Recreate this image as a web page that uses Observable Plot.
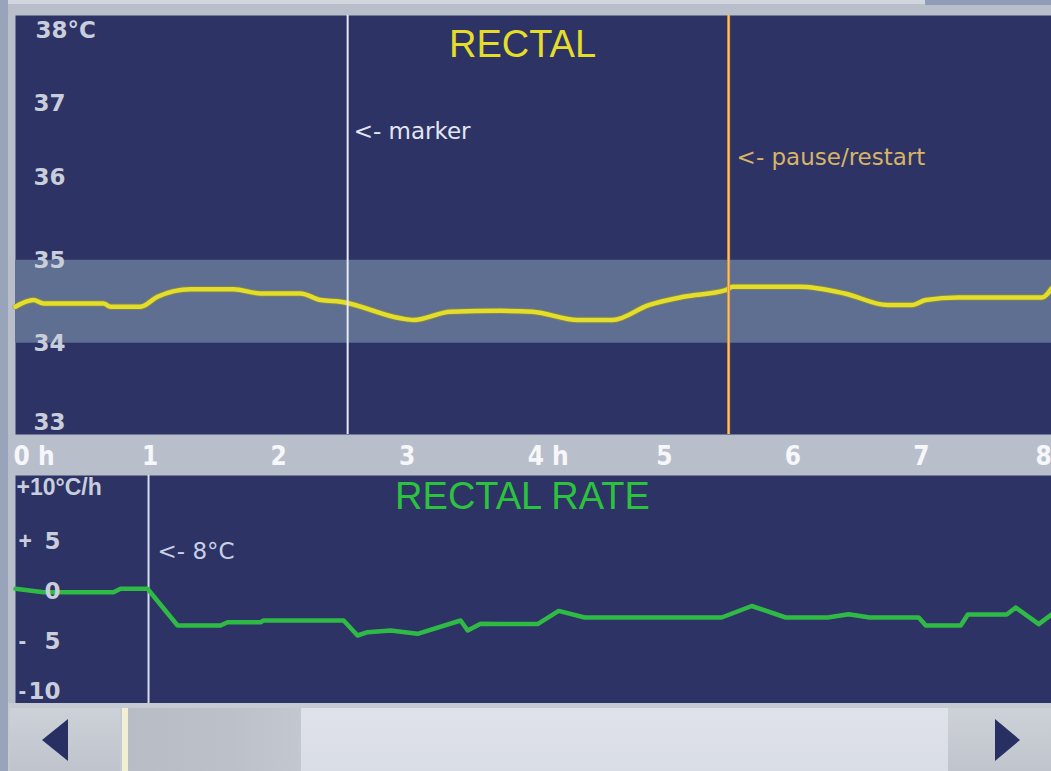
<!DOCTYPE html>
<html>
<head>
<meta charset="utf-8">
<script src="https://cdn.jsdelivr.net/npm/d3@7"></script>
<script src="https://cdn.jsdelivr.net/npm/@observablehq/plot@0.6"></script>
<style>
  html, body { margin: 0; padding: 0; background: #b7bdc8; }
  #wrap { position: relative; width: 1051px; height: 771px; overflow: hidden; background: #b9bfca; }
  #wrap .chart { position: absolute; left: 0; }
  #wrap svg { display: block; }
  .blk { position: absolute; }
</style>
</head>
<body>
<div id="wrap">
  <div class="blk" style="left:0;top:0;width:1051px;height:4px;background:#d2d6de"></div>
  <div class="blk" style="left:925px;top:0;width:126px;height:5px;background:#8f9cb6"></div>
  <div class="blk" style="left:0;top:0;width:8px;height:771px;background:#97a4ba"></div>
  <div id="top" class="chart" style="top:0"></div>
  <div id="bottom" class="chart" style="top:474px"></div>
  <!-- scrollbar chrome -->
  <div class="blk" style="left:8px;top:703px;width:1043px;height:68px;background:#c6cad2"></div>
  <div class="blk" style="left:10px;top:708px;width:110px;height:63px;background:linear-gradient(#cdd1d8,#bfc4cc)"></div>
  <div class="blk" style="left:42px;top:719px;width:26px;height:42px;background:#283063;clip-path:polygon(0 50%,100% 0,100% 100%)"></div>
  <div class="blk" style="left:122px;top:708px;width:6px;height:63px;background:#f2f0d4"></div>
  <div class="blk" style="left:128px;top:708px;width:173px;height:63px;background:linear-gradient(90deg,#b8bdc5,#bcc1c9 60%,#c3c7cf)"></div>
  <div class="blk" style="left:301px;top:708px;width:647px;height:63px;background:linear-gradient(#dfe2ea,#d9dde6)"></div>
  <div class="blk" style="left:948px;top:708px;width:103px;height:63px;background:linear-gradient(#cdd1d8,#c0c5cd)"></div>
  <div class="blk" style="left:995px;top:719px;width:25px;height:42px;background:#283063;clip-path:polygon(0 0,100% 50%,0 100%)"></div>
</div>
<script>
// ---- data ----
const timeTicks = [0, 1, 2, 3, 4, 5, 6, 7, 8];
const timeTickLabels = ["0 h", "1", "2", "3", "4 h", "5", "6", "7", "8"];
const timeDomain = [0, 8.06];

const tempTicks = [33, 34, 35, 36, 37, 38];
const tempTickLabels = ["33", "34", "35", "36", "37", "38°C"];
const tempDomain = [32.9, 37.95];
const normalBand = [34, 35];

const tempHours = [0, 0.14, 0.218, 0.685, 0.739, 0.973, 1.105, 1.362, 1.696, 1.907, 2.218, 2.374, 2.529, 2.996, 3.097, 3.385, 3.774, 4.023, 4.374, 4.646, 4.926, 5.198, 5.525, 5.58, 6.101, 6.451, 6.786, 6.973, 7.082, 7.331, 7.984, 8.06];
const tempValues = [34.44, 34.52, 34.48, 34.48, 34.44, 34.44, 34.56, 34.65, 34.65, 34.60, 34.60, 34.52, 34.50, 34.30, 34.28, 34.38, 34.39, 34.38, 34.28, 34.28, 34.46, 34.56, 34.64, 34.68, 34.68, 34.60, 34.46, 34.46, 34.52, 34.55, 34.55, 34.66];

const rateTicks = [10, 5, 0, -5, -10];
const rateSigns = ["+", "+", "", "-", "-"];
const rateNumbers = ["10", "5", "0", "5", "10"];
const rateUnit = "°C/h";
const rateDomain = [-11.2, 11.6];

const rateHours = [0, 0.218, 0.763, 0.817, 1.027, 1.261, 1.595, 1.65, 1.907, 1.93, 2.553, 2.661, 2.739, 2.918, 3.128, 3.463, 3.518, 3.619, 3.774, 4.062, 4.226, 4.428, 5.494, 5.728, 5.992, 6.319, 6.482, 6.646, 7.027, 7.082, 7.354, 7.409, 7.712, 7.782, 7.961, 8.06];
const rateValues = [0.27, -0.07, -0.07, 0.27, 0.27, -3.4, -3.4, -3.07, -3.07, -2.9, -2.9, -4.4, -4.07, -3.9, -4.23, -2.9, -3.9, -3.23, -3.26, -3.26, -1.94, -2.6, -2.6, -1.45, -2.6, -2.6, -2.27, -2.6, -2.6, -3.4, -3.4, -2.3, -2.3, -1.6, -3.26, -2.3];

const topMarkers = [{t: 2.584, label: "<- marker"}];
const topPauses = [{t: 5.548, label: "<- pause/restart"}];
const rateMarkers = [{t: 1.035, label: "<- 8°C"}];

const titleTop = "RECTAL";
const titleBottom = "RECTAL RATE";

// ---- styles ----
const NAVY = "#2d3364";
const BAND = "#5e6f91";
const YELLOW = "#e4de2a";
const GREEN = "#2fba46";
const LABEL = "#c9cedc";
const SANS = "DejaVu Sans, sans-serif";
const ARIAL = "Liberation Sans, Arial, sans-serif";
const NARROW = "DejaVu Sans Condensed, Liberation Sans Narrow, sans-serif";

const tempData = tempHours.map((t, i) => ({t, v: tempValues[i]}));
const rateData = rateHours.map((t, i) => ({t, v: rateValues[i]}));
const lastTick = timeTicks[timeTicks.length - 1];

const topPlot = Plot.plot({
  width: 1051,
  height: 474,
  marginLeft: 15,
  marginRight: 0,
  marginTop: 15,
  marginBottom: 40,
  style: {background: "transparent", overflow: "visible"},
  x: {domain: timeDomain, axis: null},
  y: {domain: tempDomain, axis: null},
  marks: [
    Plot.frame({fill: NAVY, stroke: null}),
    Plot.rect([normalBand], {x1: () => timeDomain[0], x2: () => timeDomain[1], y1: d => d[0], y2: d => d[1], fill: BAND}),
    Plot.line(tempData, {x: "t", y: "v", stroke: "#9a9620", strokeWidth: 6.5, strokeOpacity: 0.5, curve: "monotone-x"}),
    Plot.line(tempData, {x: "t", y: "v", stroke: YELLOW, strokeWidth: 4.5, curve: "monotone-x"}),
    Plot.ruleX(topMarkers, {x: "t", stroke: "#e6eaf4", strokeWidth: 2}),
    Plot.ruleX(topPauses, {x: "t", stroke: "#e8982e", strokeWidth: 3}),
    Plot.ruleX(topPauses, {x: "t", stroke: "#f6dcb0", strokeWidth: 0.7}),
    Plot.text(topMarkers, {x: "t", text: "label", frameAnchor: "top", dy: 116, dx: 6, textAnchor: "start", lineAnchor: "middle", fill: "#e2e6f2", fontSize: 23, fontFamily: SANS}),
    Plot.text(topPauses, {x: "t", text: "label", frameAnchor: "top", dy: 142, dx: 8, textAnchor: "start", lineAnchor: "middle", fill: "#d8b466", fontSize: 23, fontFamily: SANS}),
    Plot.text([titleTop], {text: d => d, frameAnchor: "top", dy: 29, dx: -11, lineAnchor: "middle", fill: YELLOW, fontSize: 38, fontFamily: ARIAL}),
    // y tick labels
    Plot.text(tempTicks.filter(d => d >= 34 && d <= 36), {y: d => d, text: d => tempTickLabels[tempTicks.indexOf(d)], frameAnchor: "left", dx: 18, textAnchor: "start", lineAnchor: "middle", fill: LABEL, fontSize: 23, fontWeight: "bold", fontFamily: SANS}),
    Plot.text([37], {y: d => d, text: d => tempTickLabels[tempTicks.indexOf(d)], frameAnchor: "left", dx: 18, dy: 9, textAnchor: "start", lineAnchor: "middle", fill: LABEL, fontSize: 23, fontWeight: "bold", fontFamily: SANS}),
    Plot.text([38], {y: d => d, text: d => tempTickLabels[tempTicks.indexOf(d)], frameAnchor: "left", dx: 20, dy: 19, textAnchor: "start", lineAnchor: "middle", fill: LABEL, fontSize: 23, fontWeight: "bold", fontFamily: SANS}),
    Plot.text([33], {y: d => d, text: d => tempTickLabels[tempTicks.indexOf(d)], frameAnchor: "left", dx: 18, dy: -4, textAnchor: "start", lineAnchor: "middle", fill: LABEL, fontSize: 23, fontWeight: "bold", fontFamily: SANS}),
    // x tick labels in the grey strip
    Plot.text(timeTicks.filter(d => d !== lastTick), {x: d => d, text: d => timeTickLabels[timeTicks.indexOf(d)], frameAnchor: "bottom", dy: 22, dx: -2, textAnchor: "start", lineAnchor: "middle", fill: "#f6f7fa", fontSize: 26, fontWeight: "bold", fontFamily: NARROW}),
    Plot.text([lastTick], {x: d => d, text: d => timeTickLabels[timeTicks.indexOf(d)], frameAnchor: "bottom", dy: 22, dx: 8, textAnchor: "end", lineAnchor: "middle", fill: "#f6f7fa", fontSize: 26, fontWeight: "bold", fontFamily: NARROW})
  ]
});

const bottomPlot = Plot.plot({
  width: 1051,
  height: 297,
  marginLeft: 15,
  marginRight: 0,
  marginTop: 1,
  marginBottom: 68,
  style: {background: "transparent", overflow: "visible"},
  x: {domain: timeDomain, axis: null},
  y: {domain: rateDomain, axis: null},
  marks: [
    Plot.frame({fill: NAVY, stroke: null}),
    Plot.ruleX(rateMarkers, {x: "t", stroke: "#d4dcf0", strokeWidth: 2}),
    Plot.text(rateSigns.map((s, i) => ({s, v: rateTicks[i]})).filter(d => d.s && d.v !== 10), {y: "v", text: "s", frameAnchor: "left", dx: 3, textAnchor: "start", lineAnchor: "middle", fill: LABEL, fontSize: 23, fontWeight: "bold", fontFamily: ARIAL}),
    Plot.text([rateTicks[0]], {y: d => d, text: () => rateSigns[0] + rateNumbers[0] + rateUnit, frameAnchor: "left", dx: 1, dy: -4, textAnchor: "start", lineAnchor: "middle", fill: LABEL, fontSize: 23, fontWeight: "bold", fontFamily: ARIAL}),
    Plot.line(rateData, {x: "t", y: "v", stroke: GREEN, strokeWidth: 4.5}),
    Plot.text(rateNumbers.map((n, i) => ({n, v: rateTicks[i]})).filter(d => d.v !== 10), {y: "v", text: "n", frameAnchor: "left", dx: 45, textAnchor: "end", lineAnchor: "middle", fill: LABEL, fontSize: 23, fontWeight: "bold", fontFamily: SANS}),
    Plot.text(rateMarkers, {x: "t", text: "label", frameAnchor: "top", dy: 76, dx: 9, textAnchor: "start", lineAnchor: "middle", fill: "#c8d0e6", fontSize: 23, fontFamily: SANS}),
    Plot.text([titleBottom], {text: d => d, frameAnchor: "top", dy: 21, dx: -11, lineAnchor: "middle", fill: "#2cc23e", fontSize: 38, fontFamily: ARIAL})
  ]
});

document.getElementById("top").appendChild(topPlot);
document.getElementById("bottom").appendChild(bottomPlot);
</script>
</body>
</html>
